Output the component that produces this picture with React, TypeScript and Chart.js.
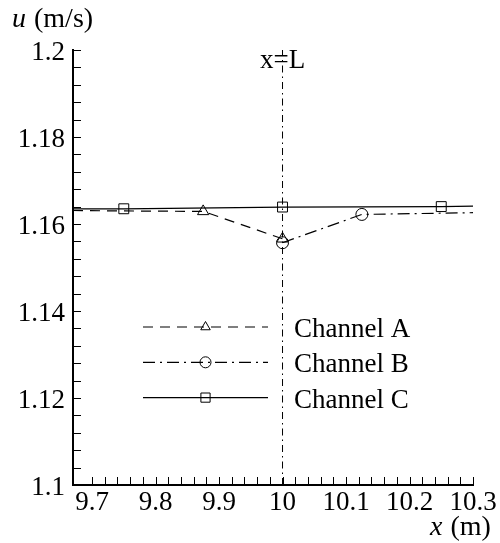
import React, { useEffect, useRef } from 'react';
import { Chart, registerables } from 'chart.js';

Chart.register(...registerables);

// ---- data ----
const seriesNames = ['Channel A', 'Channel B', 'Channel C'];
const channelAX = [9.67, 9.75, 9.875, 10.0];
const channelAY = [1.1631, 1.163, 1.1629, 1.1566];
const channelAMarked = [false, false, true, true];
const channelBX = [10.0, 10.125, 10.3];
const channelBY = [1.1557, 1.1622, 1.1626];
const channelBMarked = [true, true, false];
const channelCX = [9.67, 9.75, 10.0, 10.25, 10.3];
const channelCY = [1.1635, 1.1635, 1.1639, 1.164, 1.1641];
const channelCMarked = [false, true, true, true, false];
const refLineX = [10, 10];
const refLineY = [1.1, 1.2];
const refLineLabel = 'x=L';
const xTickValues = [9.7, 9.8, 9.9, 10, 10.1, 10.2, 10.3];
const yTickValues = [1.1, 1.12, 1.14, 1.16, 1.18, 1.2];
const xRange = [9.67, 10.3];
const yRange = [1.1, 1.2];
const xMinorStep = 0.02;
const yMinorStep = 0.004;
const xTitle = ['x', ' (m)'];
const yTitle = ['u', ' (m/s)'];

const FONT = '"Liberation Serif"';

const pts = (xs: number[], ys: number[]) => xs.map((x, i) => ({ x, y: ys[i] }));

function markerPath(ctx: CanvasRenderingContext2D, style: string, x: number, y: number, r: number) {
  ctx.beginPath();
  if (style === 'triangle') {
    const w = r * Math.sin(Math.PI * 2 / 3);
    ctx.moveTo(x, y - r);
    ctx.lineTo(x + w, y + r / 2);
    ctx.lineTo(x - w, y + r / 2);
    ctx.closePath();
  } else if (style === 'circle') {
    ctx.arc(x, y, r, 0, Math.PI * 2);
  } else {
    const s = r * Math.SQRT1_2;
    ctx.rect(x - s, y - s, 2 * s, 2 * s);
  }
  ctx.stroke();
}

const decorPlugin = {
  id: 'decor',
  afterDraw(chart: any) {
    const ctx: CanvasRenderingContext2D = chart.ctx;
    const xs = chart.scales.x;
    const ys = chart.scales.y;
    const area = chart.chartArea;
    ctx.save();
    ctx.strokeStyle = '#000';
    ctx.fillStyle = '#000';
    ctx.lineWidth = 1;
    ctx.setLineDash([]);
    // inward ticks
    const tickLen = 8;
    const nx = Math.round((xTickValues[xTickValues.length - 1] - xTickValues[0]) / xMinorStep);
    for (let i = 0; i <= nx; i++) {
      const v = xTickValues[0] + i * xMinorStep;
      const px = Math.round(xs.getPixelForValue(v)) + 0.5;
      ctx.beginPath();
      ctx.moveTo(px, area.bottom);
      ctx.lineTo(px, area.bottom - tickLen);
      ctx.stroke();
    }
    const ny = Math.round((yRange[1] - yRange[0]) / yMinorStep);
    for (let i = 0; i <= ny; i++) {
      const v = yRange[0] + i * yMinorStep;
      const py = Math.round(ys.getPixelForValue(v)) + 0.5;
      ctx.beginPath();
      ctx.moveTo(area.left, py);
      ctx.lineTo(area.left + tickLen, py);
      ctx.stroke();
    }
    // reference line label
    ctx.font = `27px ${FONT}`;
    ctx.textAlign = 'center';
    ctx.textBaseline = 'alphabetic';
    ctx.fillText(refLineLabel, xs.getPixelForValue(refLineX[0]), 68);
    // legend
    const ds = chart.data.datasets.slice(0, 3);
    const legendX0 = area.left + 70;
    const legendX1 = area.left + 195;
    const legendY0 = area.top + 277;
    const legendGap = 35.3;
    ds.forEach((d: any, i: number) => {
      const y = legendY0 + i * legendGap;
      ctx.lineWidth = d.borderWidth;
      ctx.setLineDash(d.borderDash || []);
      ctx.beginPath();
      ctx.moveTo(legendX0, y);
      ctx.lineTo(legendX1, y);
      ctx.stroke();
      ctx.setLineDash([]);
      ctx.lineWidth = 1;
      markerPath(ctx, d.pointStyle, (legendX0 + legendX1) / 2, y, d.pointStyle === 'rect' ? 6.5 : 5.5);
      ctx.font = `27px ${FONT}`;
      ctx.textAlign = 'left';
      ctx.fillText(seriesNames[i], legendX1 + 26, y + 10);
    });
    // axis titles
    ctx.textAlign = 'left';
    ctx.font = `italic 28px ${FONT}`;
    ctx.fillText(yTitle[0], 12, 27);
    let w = ctx.measureText(yTitle[0]).width;
    ctx.font = `28px ${FONT}`;
    ctx.fillText(yTitle[1], 12 + w + 1, 27);
    ctx.font = `italic 28px ${FONT}`;
    ctx.fillText(xTitle[0], 430, 535);
    w = ctx.measureText(xTitle[0]).width;
    ctx.font = `28px ${FONT}`;
    ctx.fillText(xTitle[1], 430 + w + 1, 535);
    ctx.restore();
  },
};

export default function App() {
  const ref = useRef<HTMLCanvasElement>(null);
  useEffect(() => {
    document.body.style.margin = '0';
    const canvas = ref.current!;
    const common = {
      showLine: true,
      fill: false,
      tension: 0,
      borderColor: '#000',
      borderWidth: 1.2,
      pointBorderColor: '#000',
      pointBackgroundColor: 'rgba(0,0,0,0)',
      pointBorderWidth: 1,
      pointHoverRadius: 0,
    };
    const chart = new Chart(canvas, {
      type: 'scatter',
      data: {
        datasets: [
          {
            ...common,
            label: seriesNames[0],
            data: pts(channelAX, channelAY),
            borderDash: [10, 7],
            pointStyle: 'triangle',
            pointRadius: channelAMarked.map((m) => (m ? 6.5 : 0)),
          },
          {
            ...common,
            label: seriesNames[1],
            data: pts(channelBX, channelBY),
            borderDash: [12, 5, 2, 5],
            pointStyle: 'circle',
            pointRadius: channelBMarked.map((m) => (m ? 6 : 0)),
          },
          {
            ...common,
            label: seriesNames[2],
            data: pts(channelCX, channelCY),
            borderDash: [],
            pointStyle: 'rect',
            pointRadius: channelCMarked.map((m) => (m ? 7 : 0)),
          },
          {
            ...common,
            label: refLineLabel,
            data: pts(refLineX, refLineY),
            borderWidth: 1,
            borderDash: [7, 4, 1.5, 4],
            pointRadius: 0,
          },
        ],
      } as any,
      plugins: [decorPlugin],
      options: {
        animation: false,
        responsive: false,
        devicePixelRatio: 1,
        events: [],
        font: { family: FONT },
        layout: { padding: { top: 50, right: 27, left: 0, bottom: 0 } },
        plugins: { legend: { display: false }, tooltip: { enabled: false }, title: { display: false } },
        scales: {
          x: {
            type: 'linear',
            min: xRange[0],
            max: xRange[1],
            afterBuildTicks: (s: any) => {
              s.ticks = xTickValues.map((v) => ({ value: v }));
            },
            afterFit: (s: any) => {
              s.height = 58;
            },
            grid: { display: false, drawTicks: false },
            border: { display: true, color: '#000', width: 2 },
            ticks: {
              autoSkip: false,
              maxRotation: 0,
              padding: 2,
              color: '#000',
              font: { family: FONT, size: 27 },
              callback: (v: any) => String(+Number(v).toFixed(3)),
            },
          },
          y: {
            type: 'linear',
            min: yRange[0],
            max: yRange[1],
            afterBuildTicks: (s: any) => {
              s.ticks = yTickValues.map((v) => ({ value: v }));
            },
            afterFit: (s: any) => {
              s.width = 73;
            },
            grid: { display: false, drawTicks: false },
            border: { display: true, color: '#000', width: 2 },
            ticks: {
              autoSkip: false,
              padding: 8,
              labelOffset: 3,
              color: '#000',
              font: { family: FONT, size: 27 },
              callback: (v: any) => String(+Number(v).toFixed(3)),
            },
          },
        },
      } as any,
    });
    let alive = true;
    const fl: any = (document as any).fonts;
    if (fl && fl.load) {
      Promise.all([fl.load(`27px ${FONT}`), fl.load(`italic 27px ${FONT}`)])
        .catch(() => null)
        .then(() => {
          if (alive) chart.update();
        });
    }
    return () => {
      alive = false;
      chart.destroy();
    };
  }, []);
  return (
    <div style={{ position: 'absolute', left: 0, top: 0, width: 500, height: 543, background: '#fff' }}>
      <canvas ref={ref} width={500} height={543} style={{ display: 'block' }} />
    </div>
  );
}
